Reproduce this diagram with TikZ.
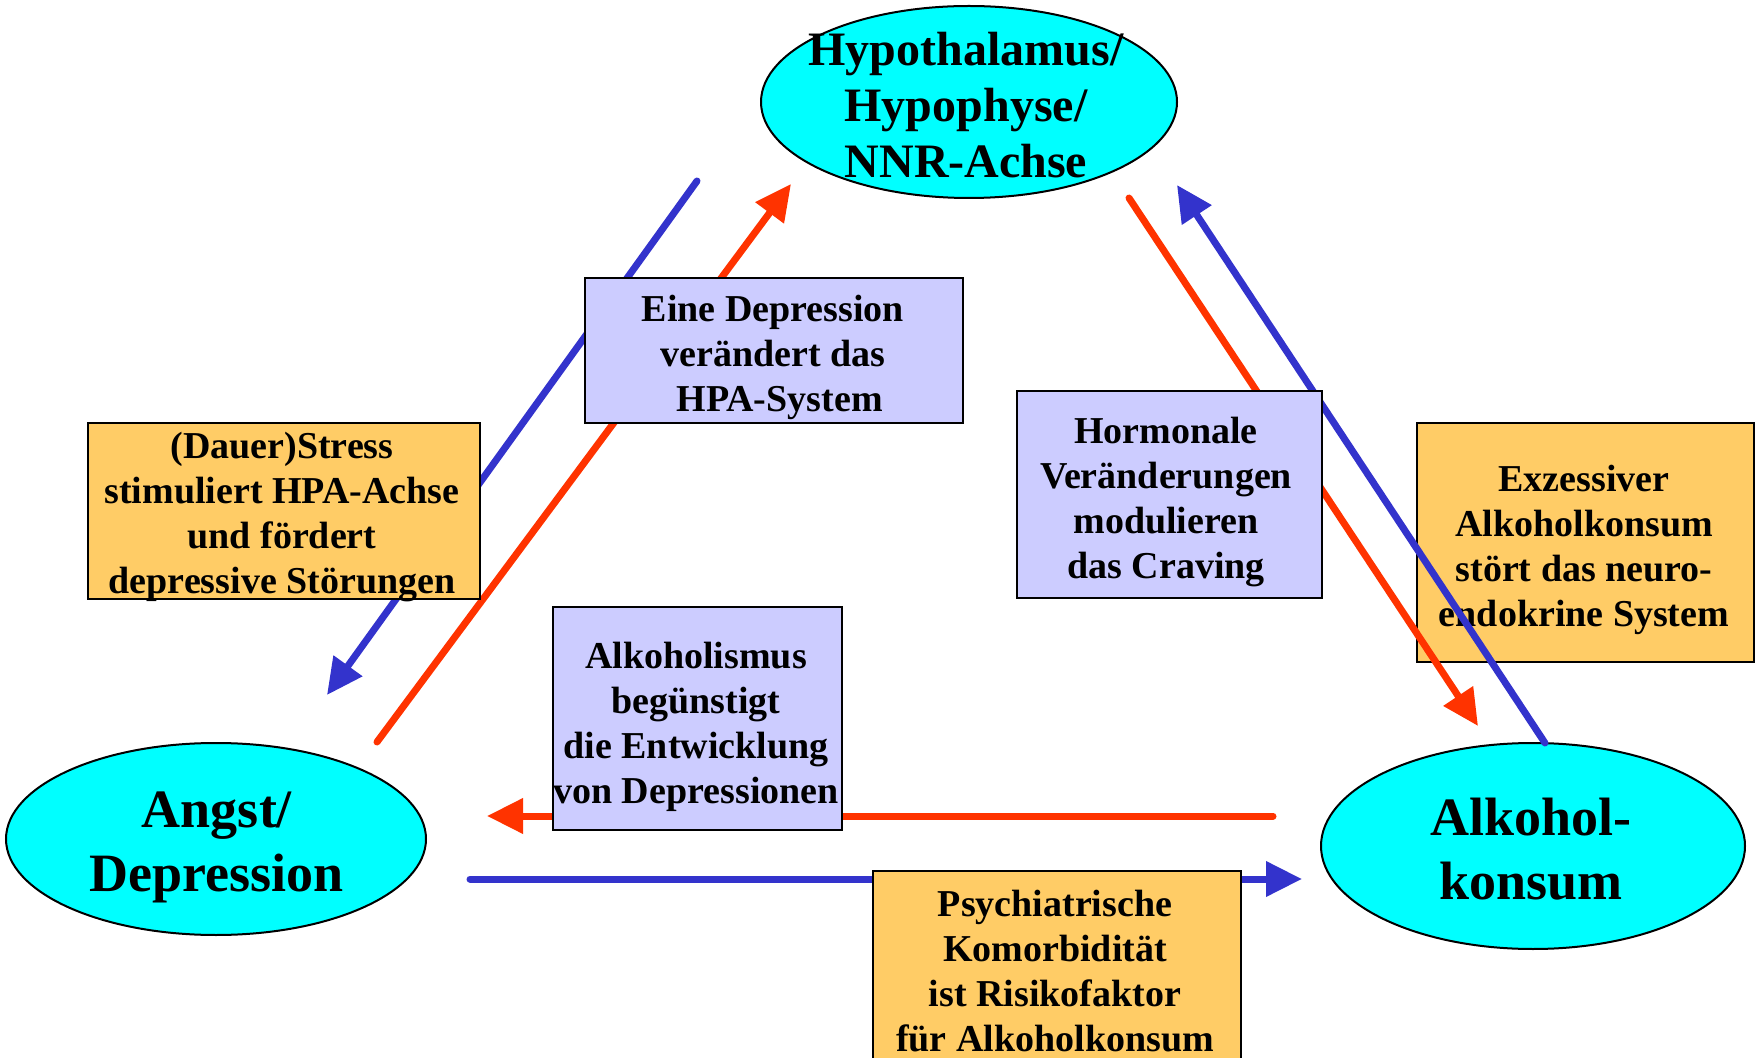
\documentclass[tikz,border=0pt]{standalone}
\usepackage{fontspec}
\setmainfont{Liberation Serif}
\usetikzlibrary{arrows.meta,shapes.geometric}
\definecolor{axiscyan}{HTML}{00FFFF}
\definecolor{notelilac}{HTML}{CCCCFF}
\definecolor{noteamber}{HTML}{FFCC66}
\definecolor{flowblue}{HTML}{3333CC}
\definecolor{flowred}{HTML}{FF3300}

\begin{document}
\begin{tikzpicture}[x=0.5pt,y=-0.5pt,
  hub/.style={ellipse, draw=black, line width=1pt, fill=axiscyan, inner sep=0pt},
  hubtext/.style={font=\bfseries\fontsize{27pt}{32pt}\selectfont, align=center, inner sep=0pt},
  hpatext/.style={font=\bfseries\fontsize{24pt}{28pt}\selectfont, align=center, inner sep=0pt},
  notebox/.style={rectangle, draw=black, line width=1pt, inner sep=0pt},
  lilacnote/.style={notebox, fill=notelilac},
  ambernote/.style={notebox, fill=noteamber},
  notetext/.style={font=\bfseries\fontsize{19pt}{22.5pt}\selectfont, align=center, inner sep=0pt},
  flow/.style={line width=3.5pt, line cap=round, -{Triangle[length=18pt,width=17pt]}},
  blueflow/.style={flow, draw=flowblue, fill=flowblue},
  redflow/.style={flow, draw=flowred, fill=flowred},
]
\clip (0,0) rectangle (1756,1058);
\useasboundingbox (0,0) rectangle (1756,1058);

% the three hubs of the triangle
\node[hub, minimum width=208pt, minimum height=96pt] (hpa) at (969,102) {};
\node[hpatext] (hpa-label) at (966,105) {Hypothalamus/\\Hypophyse/\\NNR-Achse};
\node[hub, minimum width=210pt, minimum height=96pt] (angst) at (216,839) {};
\node[hubtext] (angst-label) at (217,847) {Angst/\\Depression};
\node[hub, minimum width=212pt, minimum height=103pt] (alk) at (1533,846) {};
\node[hubtext] (alk-label) at (1531,849) {Alkohol-\\konsum};

% note lying beneath the right-hand connectors
\node[ambernote, minimum width=168.5pt, minimum height=119.5pt] (exzess) at (1585.5,542.5) {};
\node[notetext] (exzess-label) at (1584,549.5) {Exzessiver\\Alkoholkonsum\\stört das neuro-\\endokrine System};

% free ends of the connectors
\coordinate (hpa-sw-out) at (697,181);
\coordinate (angst-in)   at (327,695);
\coordinate (angst-out)  at (377,742);
\coordinate (hpa-sw-in)  at (791,184);
\coordinate (hpa-se-out) at (1129,198);
\coordinate (alk-in)     at (1478,726);
\coordinate (alk-out)    at (1545,743);
\coordinate (hpa-se-in)  at (1177,185);
\coordinate (alk-w-out)  at (1273,816);
\coordinate (angst-e-in) at (487,816);
\coordinate (angst-e-out) at (470,879);
\coordinate (alk-w-in)   at (1302,879);

\draw[blueflow] (hpa-sw-out) -- (angst-in);
\draw[redflow]  (angst-out) -- (hpa-sw-in);
\draw[redflow]  (hpa-se-out) -- (alk-in);
\draw[blueflow] (alk-out) -- (hpa-se-in);
\draw[redflow]  (alk-w-out) -- (angst-e-in);
\draw[blueflow] (angst-e-out) -- (alk-w-in);

% notes lying above the connectors
\node[lilacnote, minimum width=189pt, minimum height=72.5pt] (depr) at (774,350.5) {};
\node[notetext] (depr-label) at (773,357) {Eine Depression\\verändert das\\\hspace*{0.35em}HPA-System};

\node[ambernote, minimum width=196pt, minimum height=88pt] (stress) at (284,511) {};
\node[notetext] (stress-label) at (282,517.5) {(Dauer)Stress\\stimuliert HPA-Achse\\und fördert\\depressive Störungen};

\node[lilacnote, minimum width=152.5pt, minimum height=103.5pt] (hormon) at (1169.5,494.5) {};
\node[notetext] (hormon-label) at (1166,502) {Hormonale\\Veränderungen\\modulieren\\das Craving};

\node[lilacnote, minimum width=144.5pt, minimum height=111.5pt] (alkdep) at (697.5,718.5) {};
\node[notetext] (alkdep-label) at (696,726.5) {Alkoholismus\\begünstigt\\die Entwicklung\\von Depressionen};

\node[ambernote, minimum width=184pt, minimum height=96.5pt] (psych) at (1057,967.5) {};
\node[notetext] (psych-label) at (1055,971.5) {Psychiatrische\\Komorbidität\\ist Risikofaktor\\für Alkoholkonsum};
\end{tikzpicture}
\end{document}
